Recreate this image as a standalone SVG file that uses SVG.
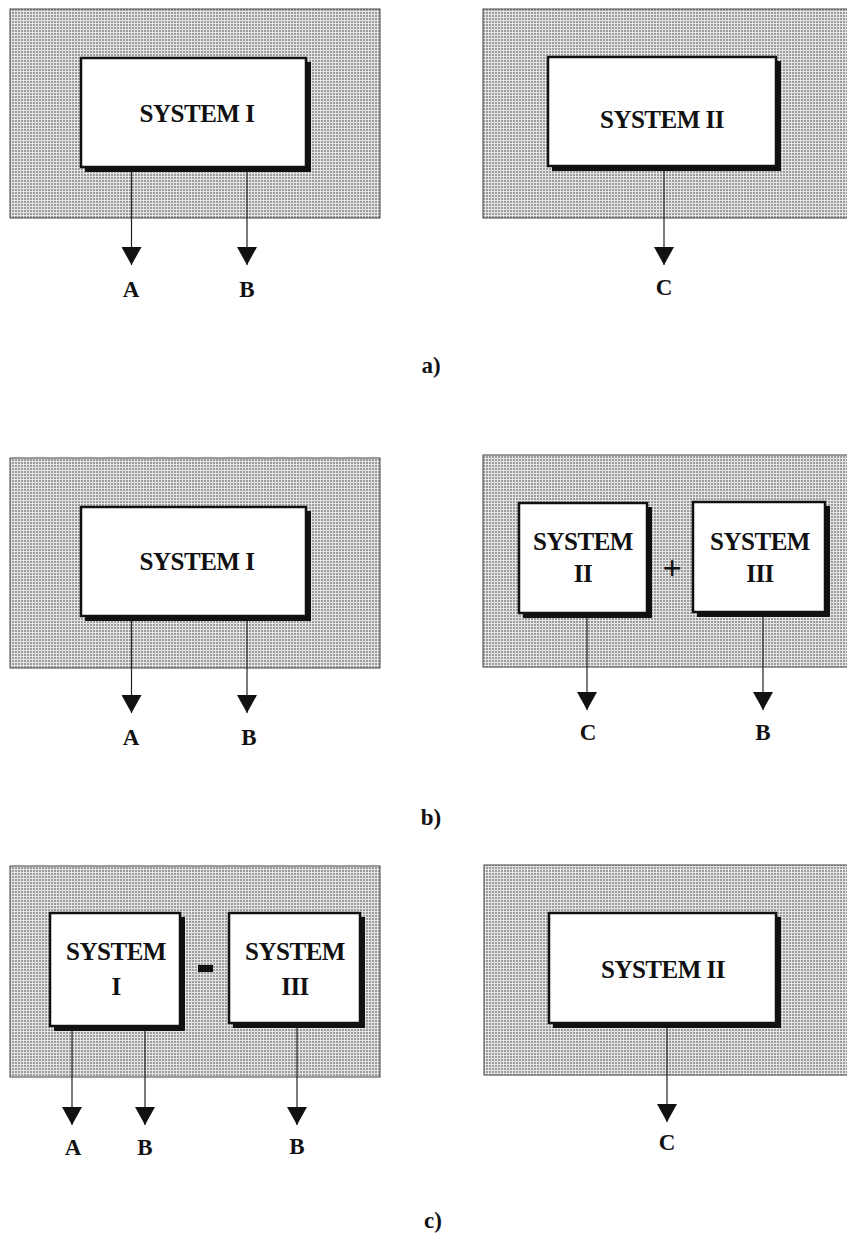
<svg xmlns="http://www.w3.org/2000/svg" width="847" height="1236" viewBox="0 0 847 1236">
<defs>
<pattern id="dots" width="3" height="3" patternUnits="userSpaceOnUse">
<rect width="3" height="3" fill="#e4e4e4"/>
<rect width="2" height="2" fill="#9c9c9c"/>
</pattern>
<marker id="ah" viewBox="0 0 18 20" refX="18" refY="10" markerWidth="18" markerHeight="20" markerUnits="userSpaceOnUse" orient="auto">
<path d="M0,0 L18,10 L0,20 Z" fill="#111"/>
</marker>
</defs>
<style>
.bg{fill:url(#dots);stroke:#444;stroke-width:1}
.sh{fill:#111}
.box{fill:#fff;stroke:#111;stroke-width:2.5}
.t{font-family:"Liberation Serif","Times New Roman",serif;font-weight:bold;font-size:25px;fill:#111;text-anchor:middle;letter-spacing:-0.5px}
.lb{font-family:"Liberation Serif","Times New Roman",serif;font-weight:bold;font-size:23px;fill:#111;text-anchor:middle}
.cap{font-family:"Liberation Serif","Times New Roman",serif;font-weight:bold;font-size:23px;fill:#111;text-anchor:middle}
.c{stroke:#222;stroke-width:1.2;fill:none;marker-end:url(#ah)}
</style>
<rect width="847" height="1236" fill="#fff"/>

<g id="panels">
<rect class="bg" x="10" y="9" width="370" height="209"/>
<rect class="bg" x="483" y="9" width="370" height="209"/>
<rect class="bg" x="10" y="458" width="370" height="210"/>
<rect class="bg" x="483" y="455" width="370" height="212"/>
<rect class="bg" x="10" y="866" width="370" height="211"/>
<rect class="bg" x="484" y="865" width="370" height="210"/>
</g>

<g id="connectors">
<line class="c" x1="131.5" y1="170" x2="131.5" y2="265"/>
<line class="c" x1="247" y1="170" x2="247" y2="265"/>
<line class="c" x1="664" y1="169" x2="664" y2="265"/>
<line class="c" x1="131.5" y1="619" x2="131.5" y2="713"/>
<line class="c" x1="247" y1="619" x2="247" y2="713"/>
<line class="c" x1="587" y1="616" x2="587" y2="710"/>
<line class="c" x1="763" y1="615" x2="763" y2="710"/>
<line class="c" x1="72" y1="1029" x2="72" y2="1125"/>
<line class="c" x1="145" y1="1029" x2="145" y2="1125"/>
<line class="c" x1="297" y1="1026" x2="297" y2="1125"/>
<line class="c" x1="667" y1="1026" x2="667" y2="1122"/>
</g>

<g id="a-sys1">
<rect class="sh" x="85" y="62" width="226" height="110"/>
<rect class="box" x="81" y="58" width="225" height="109"/>
<text class="t" x="197" y="122">SYSTEM I</text>
</g>
<g id="a-sys2">
<rect class="sh" x="552" y="61" width="229" height="110"/>
<rect class="box" x="548" y="57" width="228" height="109"/>
<text class="t" x="662" y="128">SYSTEM II</text>
</g>
<g id="b-sys1">
<rect class="sh" x="85" y="511" width="226" height="110"/>
<rect class="box" x="81" y="507" width="225" height="109"/>
<text class="t" x="197" y="570">SYSTEM I</text>
</g>
<g id="b-sys2">
<rect class="sh" x="523" y="507" width="129" height="111"/>
<rect class="box" x="519" y="503" width="128" height="110"/>
<text class="t" x="583" y="550">SYSTEM</text>
<text class="t" x="583" y="582">II</text>
</g>
<g id="b-plus">
<text class="t" x="672" y="579" style="font-size:34px">+</text>
</g>
<g id="b-sys3">
<rect class="sh" x="697" y="506" width="133" height="111"/>
<rect class="box" x="693" y="502" width="132" height="110"/>
<text class="t" x="760" y="550">SYSTEM</text>
<text class="t" x="760" y="582">III</text>
</g>
<g id="c-sys1">
<rect class="sh" x="54" y="917" width="131" height="114"/>
<rect class="box" x="50" y="913" width="130" height="113"/>
<text class="t" x="116" y="960">SYSTEM</text>
<text class="t" x="116" y="995">I</text>
</g>
<g id="c-minus">
<rect x="198" y="965" width="15" height="7" fill="#111"/>
</g>
<g id="c-sys3">
<rect class="sh" x="233" y="917" width="132" height="111"/>
<rect class="box" x="229" y="913" width="131" height="110"/>
<text class="t" x="295" y="960">SYSTEM</text>
<text class="t" x="295" y="995">III</text>
</g>
<g id="c-sys2">
<rect class="sh" x="553" y="917" width="228" height="111"/>
<rect class="box" x="549" y="913" width="227" height="110"/>
<text class="t" x="663" y="978">SYSTEM II</text>
</g>

<g id="labels">
<text class="lb" x="131" y="297">A</text>
<text class="lb" x="247" y="297">B</text>
<text class="lb" x="664" y="295">C</text>
<text class="lb" x="131" y="745">A</text>
<text class="lb" x="249" y="745">B</text>
<text class="lb" x="588" y="740">C</text>
<text class="lb" x="763" y="740">B</text>
<text class="lb" x="73" y="1155">A</text>
<text class="lb" x="145" y="1155">B</text>
<text class="lb" x="297" y="1154">B</text>
<text class="lb" x="667" y="1150">C</text>
<text class="cap" x="431" y="373">a)</text>
<text class="cap" x="431" y="825">b)</text>
<text class="cap" x="433" y="1228">c)</text>
</g>
</svg>
